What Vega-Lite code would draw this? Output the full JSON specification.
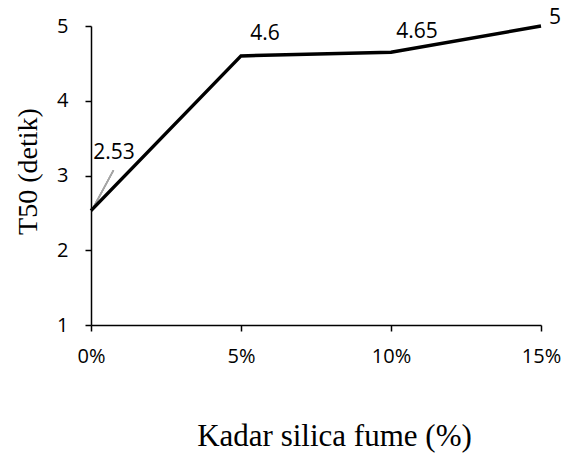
{
  "$schema": "https://vega.github.io/schema/vega-lite/v6.json",
  "width": 450,
  "height": 299,
  "autosize": "none",
  "padding": {"left": 91, "top": 26, "right": 32, "bottom": 129},
  "background": "white",
  "config": {"view": {"stroke": null}},
  "data": {"values": [
    {"kadar": 0, "t50": 2.53, "label": "2.53"},
    {"kadar": 5, "t50": 4.6, "label": "4.6"},
    {"kadar": 10, "t50": 4.65, "label": "4.65"},
    {"kadar": 15, "t50": 5, "label": "5"}
  ]},
  "encoding": {
    "x": {"field": "kadar", "type": "quantitative",
      "scale": {"domain": [0, 15], "nice": false, "zero": false},
      "axis": {"values": [0, 5, 10, 15], "labelExpr": "datum.value + '%'", "grid": false, "labelFlush": false,
        "domainColor": "black", "domainWidth": 1.5, "tickColor": "black", "tickWidth": 1.5, "tickSize": 6,
        "labelFont": "Open Sans", "labelFontSize": 20, "labelColor": "black", "labelPadding": 15,
        "title": "Kadar silica fume (%)", "titleFont": "Liberation Serif", "titleFontSize": 31,
        "titleFontWeight": "normal", "titleColor": "black", "titlePadding": 55, "titleX": 243}},
    "y": {"field": "t50", "type": "quantitative",
      "scale": {"domain": [1, 5], "nice": false, "zero": false},
      "axis": {"values": [1, 2, 3, 4, 5], "grid": false,
        "domainColor": "black", "domainWidth": 1.5, "tickColor": "black", "tickWidth": 1.5, "tickSize": 6,
        "labelFont": "Open Sans", "labelFontSize": 20, "labelColor": "black", "labelPadding": 17,
        "title": "T50 (detik)", "titleFont": "Liberation Serif", "titleFontSize": 28,
        "titleFontWeight": "normal", "titleColor": "black", "titlePadding": 14, "titleY": 145}}
  },
  "layer": [
    {"mark": {"type": "rule", "color": "#a6a6a6", "strokeWidth": 1.5},
     "encoding": {"x": {"datum": 0.05}, "y": {"datum": 2.55}, "x2": {"datum": 0.75}, "y2": {"datum": 3.07}}},
    {"mark": {"type": "line", "color": "black", "strokeWidth": 3.5}},
    {"transform": [{"filter": "datum.kadar == 0"}],
     "mark": {"type": "text", "font": "Open Sans", "fontSize": 21, "color": "black", "dx": 23, "dy": -58},
     "encoding": {"text": {"field": "label"}}},
    {"transform": [{"filter": "datum.kadar == 5"}],
     "mark": {"type": "text", "font": "Open Sans", "fontSize": 21, "color": "black", "dx": 24, "dy": -22},
     "encoding": {"text": {"field": "label"}}},
    {"transform": [{"filter": "datum.kadar == 10"}],
     "mark": {"type": "text", "font": "Open Sans", "fontSize": 21, "color": "black", "dx": 26, "dy": -20},
     "encoding": {"text": {"field": "label"}}},
    {"transform": [{"filter": "datum.kadar == 15"}],
     "mark": {"type": "text", "font": "Open Sans", "fontSize": 21, "color": "black", "dx": 14, "dy": -8},
     "encoding": {"text": {"field": "label"}}}
  ]
}
